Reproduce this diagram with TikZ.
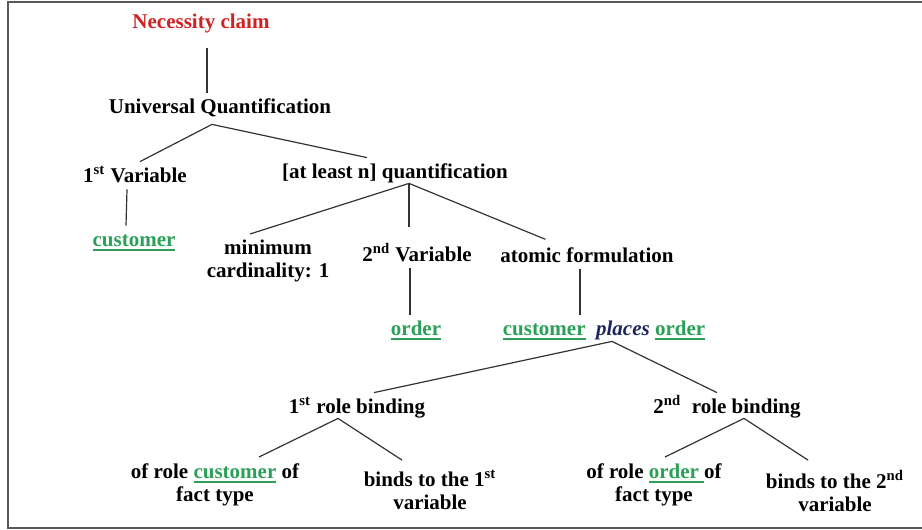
\documentclass[tikz,border=0pt]{standalone}
\usepackage{fontspec}
\setmainfont{LiberationSerif}[Extension=.ttf, UprightFont=*-Regular, BoldFont=*-Bold,
  ItalicFont=*-Italic, BoldItalicFont=*-BoldItalic]
\usepackage{tikz}
\usetikzlibrary{positioning}

\definecolor{claimred}{RGB}{205,35,35}
\definecolor{termgreen}{RGB}{44,160,88}
\definecolor{verbblue}{RGB}{28,38,92}

% green underlined noun concept
\newcommand{\term}[1]{{\color{termgreen}\setbox0\hbox{#1}\rlap{\rule[-2.6pt]{\wd0}{1.1pt}}\box0}}

\begin{document}
\begin{tikzpicture}[
    x=0.5pt, y=-0.5pt,
    font=\rmfamily\fontsize{10.5}{11.5}\selectfont\bfseries,
    lbl/.style={anchor=base, inner sep=3pt, text height=0.7em, text depth=0.25em},
    lbl2/.style={anchor=north, inner sep=3pt, align=center},
    link/.style={draw=black!80, line width=0.6pt},
  ]
  \useasboundingbox (0,0) rectangle (922,530);
  \draw[black!65, line width=1pt] (930,2) -- (8,2) -- (8,528) -- (930,528);

  % tree labels
  \node[lbl, text=claimred] (claim) at (201,28) {Necessity claim};
  \node[lbl] (univ) at (220,113) {Universal Quantification};
  \node[lbl] (var1) at (135,182) {1\textsuperscript{st} Variable};
  \node[lbl] (atleast) at (395,178) {[at least n] quantification};
  \node[lbl] (cust1) at (134,246) {\term{customer}};
  \node[lbl2] (mincard) at (268,234) {minimum\\cardinality: 1};
  \node[lbl] (var2) at (417,261) {2\textsuperscript{nd} Variable};
  \node[lbl] (atomic) at (587,262) {atomic formulation};
  \node[lbl] (order1) at (416,335) {\term{order}};
  \node[lbl] (fact) at (604,335)
    {\term{customer}\ \ {\color{verbblue}\itshape places} \term{order}};
  \node[lbl] (role1) at (357,413) {1\textsuperscript{st} role binding};
  \node[lbl] (role2) at (727,413) {2\textsuperscript{nd}\ \ role binding};
  \node[lbl2] (ofrole1) at (215,457) {of role \term{customer} of\\fact type};
  \node[lbl2] (binds1) at (430,464) {binds to the 1\textsuperscript{st}\\variable};
  \node[lbl2] (ofrole2) at (654,457) {of role \term{order\ }of\\fact type};
  \node[lbl2] (binds2) at (835,464) {binds to the 2\textsuperscript{nd}\\variable};

  % branches
  \draw[link, shorten <=4.5pt] ([xshift=3pt]claim.south) -- ([xshift=-6.5pt]univ.north);
  \draw[link] ([xshift=-4pt]univ.south) -- ([xshift=2.5pt]var1.north);
  \draw[link] ([xshift=-4pt]univ.south) -- ([xshift=-14pt]atleast.north);
  \draw[link] ([xshift=-4pt, yshift=2pt]var1.south) -- ([xshift=-4pt]cust1.north);
  \draw[link] ([xshift=7pt, yshift=3pt]atleast.south) -- ([xshift=-9pt]mincard.north);
  \draw[link, shorten >=7pt] ([xshift=7pt, yshift=3pt]atleast.south) -- ([xshift=7pt]atleast.south |- var2.north);
  \draw[link, shorten >=3pt] ([xshift=7pt, yshift=3pt]atleast.south) -- ([xshift=-18pt]atomic.north);
  \draw[link] ([xshift=-3.5pt, yshift=2pt]var2.south) -- ([xshift=-3pt]order1.north);
  \draw[link] ([xshift=-3.5pt, yshift=2pt]atomic.south) -- ([xshift=-3.5pt]atomic.south |- fact.north);
  \draw[link] ([xshift=4pt, yshift=2.5pt]fact.south) -- ([xshift=8.5pt]role1.north);
  \draw[link] ([xshift=4pt, yshift=2.5pt]fact.south) -- ([xshift=-5pt]role2.north);
  \draw[link] ([xshift=-9.5pt, yshift=3pt]role1.south) -- ([xshift=22pt]ofrole1.north);
  \draw[link, shorten >=3.5pt] ([xshift=-9.5pt, yshift=3pt]role1.south) -- ([xshift=-11pt]binds1.north);
  \draw[link] ([xshift=8.5pt, yshift=3pt]role2.south) -- ([xshift=5.5pt]ofrole2.north);
  \draw[link, shorten >=3.5pt] ([xshift=8.5pt, yshift=3pt]role2.south) -- ([xshift=-10.5pt]binds2.north);
\end{tikzpicture}
\end{document}
